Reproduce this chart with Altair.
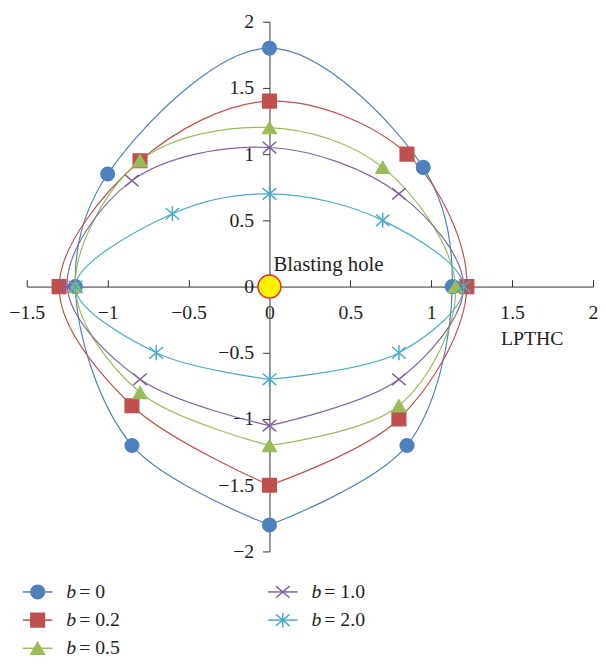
import altair as alt
import pandas as pd

series = ["b = 0", "b = 0.2", "b = 0.5", "b = 1.0", "b = 2.0"]
colors = ["#4F81BD", "#C0504D", "#9BBB59", "#8064A2", "#4BACC6"]
X_PATH = "M-1,-0.85L1,0.85M-1,0.85L1,-0.85"
STAR_PATH = "M-1,-0.85L1,0.85M-1,0.85L1,-0.85M0,-1.1L0,1.1"
shapes = ["circle", "square", "triangle-up", X_PATH, STAR_PATH]

# points ordered: bottom, lower-right, right, upper-right, top, upper-left, left, lower-left, bottom
b0_x = [0, 0.85, 1.13, 0.95, 0, -1.0, -1.2, -0.85, 0]
b0_y = [-1.8, -1.2, 0, 0.9, 1.8, 0.85, 0, -1.2, -1.8]
b02_x = [0, 0.8, 1.22, 0.85, 0, -0.8, -1.3, -0.85, 0]
b02_y = [-1.5, -1.0, 0, 1.0, 1.4, 0.95, 0, -0.9, -1.5]
b05_x = [0, 0.8, 1.15, 0.7, 0, -0.8, -1.2, -0.8, 0]
b05_y = [-1.2, -0.9, 0, 0.9, 1.2, 0.95, 0, -0.8, -1.2]
b1_x = [0, 0.8, 1.2, 0.8, 0, -0.85, -1.25, -0.8, 0]
b1_y = [-1.05, -0.7, 0, 0.7, 1.05, 0.8, 0, -0.7, -1.05]
b2_x = [0, 0.8, 1.2, 0.7, 0, -0.6, -1.2, -0.7, 0]
b2_y = [-0.7, -0.5, 0, 0.5, 0.7, 0.55, 0, -0.5, -0.7]

xs = [b0_x, b02_x, b05_x, b1_x, b2_x]
ys = [b0_y, b02_y, b05_y, b1_y, b2_y]

rows = []
for s, xx, yy in zip(series, xs, ys):
    for i, (a, b) in enumerate(zip(xx, yy)):
        rows.append({"series": s, "i": i, "x": a, "y": b})
df = pd.DataFrame(rows)

x_ticks = [-1.5, -1, -0.5, 0, 0.5, 1, 1.5, 2]
y_ticks = [-2, -1.5, -1, -0.5, 0, 0.5, 1, 1.5, 2]

W, H = 573, 536
FONT = "Liberation Serif"
TXT = "#231F20"
x_off = -W * 1.5 / 3.5
y_off = -H / 2

xscale = alt.Scale(domain=[-1.5, 2], nice=False, zero=False)
yscale = alt.Scale(domain=[-2, 2], nice=False, zero=False)
cscale = alt.Scale(domain=series, range=colors)
sscale = alt.Scale(domain=series, range=shapes)

x_axis = alt.Axis(orient="top", offset=y_off, values=x_ticks, grid=False,
                  tickSize=7, labelPadding=-23, labelBaseline="top",
                  labelFont=FONT, labelFontSize=20, labelColor=TXT,
                  domainColor="#333", tickColor="#333", labelFlush=False,
                  title="LPTHC", titleFont=FONT, titleFontSize=20,
                  titleFontWeight="normal", titleColor=TXT,
                  titleX=511, titleY=59, titleAlign="center",
                  titleBaseline="alphabetic", format="~g")
y_axis = alt.Axis(orient="left", offset=x_off, values=y_ticks, grid=False,
                  tickSize=7, labelPadding=9, labelFont=FONT, labelFontSize=20,
                  labelColor=TXT, domainColor="#333", tickColor="#333",
                  title=None, format="~g", labelFlush=False)

base = alt.Chart(df)
lines = base.mark_line(interpolate="catmull-rom", strokeWidth=1.2).encode(
    x=alt.X("x:Q", scale=xscale, axis=x_axis),
    y=alt.Y("y:Q", scale=yscale, axis=y_axis),
    color=alt.Color("series:N", scale=cscale, legend=None),
    order=alt.Order("i:Q"),
    detail="series:N",
)
pts_df = df[df["i"] < 8]
points = alt.Chart(pts_df).mark_point(size=190, opacity=1, strokeWidth=1.5).encode(
    x=alt.X("x:Q", scale=xscale),
    y=alt.Y("y:Q", scale=yscale),
    fill=alt.Fill("series:N", scale=cscale, legend=None),
    stroke=alt.Stroke("series:N", scale=cscale, legend=None),
    shape=alt.Shape("series:N", scale=sscale, legend=None),
)

hole_df = pd.DataFrame({"x": [0], "y": [0], "label": ["Blasting hole"]})
hole = alt.Chart(hole_df).mark_point(
    shape="circle", size=540, filled=True, fill="#FFF200", stroke="#E8262B",
    strokeWidth=1.5, opacity=1).encode(
    x=alt.X("x:Q", scale=xscale), y=alt.Y("y:Q", scale=yscale))
hole_txt = alt.Chart(hole_df).mark_text(
    align="left", baseline="alphabetic", dx=4, dy=-16, font=FONT,
    fontSize=21, color=TXT).encode(
    x=alt.X("x:Q", scale=xscale), y=alt.Y("y:Q", scale=yscale), text="label:N")

main = alt.layer(lines, points, hole, hole_txt).properties(width=W, height=H)

# legend panel
leg_col = [0, 0, 0, 1, 1]
leg_row = [0, 1, 2, 0, 1]
leg_val = ["= 0", "= 0.2", "= 0.5", "= 1.0", "= 2.0"]
leg_df = pd.DataFrame({"series": series, "col": leg_col, "row": leg_row,
                       "val": leg_val, "b": ["b"] * 5})
lx = alt.X("col:Q", scale=alt.Scale(domain=[0, 1], range=[11, 259]), axis=None)
ly = alt.Y("row:Q", scale=alt.Scale(domain=[0, 2], range=[10, 67]), axis=None)
leg_base = alt.Chart(leg_df)
leg_rule = leg_base.mark_rule(xOffset=-15, x2Offset=15, strokeWidth=1.5).encode(
    x=lx, x2="col:Q", y=ly,
    color=alt.Color("series:N", scale=cscale, legend=None))
leg_pts = leg_base.mark_point(size=190, opacity=1, strokeWidth=1.5).encode(
    x=lx, y=ly,
    fill=alt.Fill("series:N", scale=cscale, legend=None),
    stroke=alt.Stroke("series:N", scale=cscale, legend=None),
    shape=alt.Shape("series:N", scale=sscale, legend=None))
leg_b = leg_base.mark_text(align="left", baseline="middle", dx=29, font=FONT,
                           fontSize=20, fontStyle="italic", color=TXT).encode(
    x=lx, y=ly, text="b:N")
leg_v = leg_base.mark_text(align="left", baseline="middle", dx=42, font=FONT,
                           fontSize=20, color=TXT).encode(
    x=lx, y=ly, text="val:N")
legend = alt.layer(leg_rule, leg_pts, leg_b, leg_v).properties(width=W, height=77)

chart = alt.vconcat(main, legend, spacing=21).properties(
    padding={"left": 0, "top": 0, "right": 0, "bottom": 0}
).configure_view(stroke=None).resolve_scale(color="shared")

chart.save("out.html", embed_options={"renderer": "svg", "actions": False})
